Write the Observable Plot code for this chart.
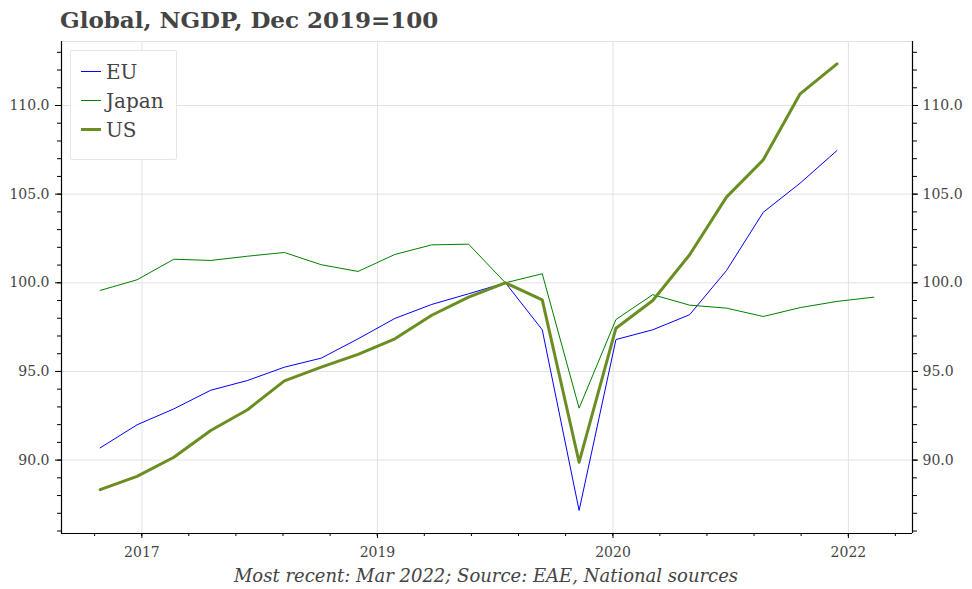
<!DOCTYPE html>
<html>
<head>
<meta charset="utf-8">
<script src="https://cdn.jsdelivr.net/npm/d3@7"></script>
<script src="https://cdn.jsdelivr.net/npm/@observablehq/plot@0.6"></script>
<style>
  body { margin: 0; background: #fff; }
  #wrap { position: relative; width: 972px; height: 589px; font-family: "DejaVu Serif", serif; color: #444; overflow: hidden; }
  #title { position: absolute; left: 60px; top: 5px; font-weight: bold; font-size: 23px; line-height: 30px; white-space: nowrap; }
  #chart { position: absolute; left: 0; top: 40px; }
  #caption { position: absolute; top: 563px; left: 0; width: 972px; text-align: center; font-style: italic; font-size: 18px; line-height: 26px; white-space: nowrap; }
  #legend { position: absolute; left: 70px; top: 50px; width: 105px; height: 102px; border: 1px solid #e6e6e6; border-radius: 2px; background: rgba(255,255,255,0.85); padding-top: 6px; box-sizing: content-box; }
  #legend .row { display: flex; align-items: center; height: 29px; padding-left: 10px; font-size: 20px; }
  #legend .sw { width: 20px; margin-right: 5px; }
</style>
</head>
<body>
<div id="wrap">
  <div id="title"></div>
  <div id="chart"></div>
  <div id="legend"></div>
  <div id="caption"></div>
</div>
<script>
// ---- data (quarterly, index 0 = Mar 2017) ----
const quarters = ["Mar 2017","Jun 2017","Sep 2017","Dec 2017","Mar 2018","Jun 2018","Sep 2018","Dec 2018",
  "Mar 2019","Jun 2019","Sep 2019","Dec 2019","Mar 2020","Jun 2020","Sep 2020","Dec 2020",
  "Mar 2021","Jun 2021","Sep 2021","Dec 2021","Mar 2022","Jun 2022"];
const eu = [90.69, 91.99, 92.89, 93.94, 94.49, 95.24, 95.75, 96.84, 97.99, 98.78, 99.38, 100.0,
  97.35, 87.16, 96.80, 97.35, 98.20, 100.69, 103.98, 105.62, 107.46];
const japan = [99.57, 100.17, 101.33, 101.26, 101.50, 101.71, 101.02, 100.64, 101.60, 102.14, 102.18, 100.0,
  100.51, 92.93, 97.93, 99.33, 98.74, 98.57, 98.10, 98.60, 98.95, 99.19];
const us = [88.33, 89.08, 90.16, 91.67, 92.84, 94.47, 95.24, 95.96, 96.84, 98.17, 99.19, 100.0,
  99.04, 89.88, 97.44, 99.00, 101.58, 104.83, 106.94, 110.66, 112.35];
const seriesNames = ["EU", "Japan", "US"];
const xTickLabels = ["2017", "2019", "2020", "2022"];
const xTickValues = [1.133, 7.526, 13.92, 20.31];
const yTickValues = [90, 95, 100, 105, 110];

const titleText = "Global, NGDP, Dec 2019=100";
const captionText = "Most recent: Mar 2022; Source: EAE, National sources";

// ---- build ----
const colors = {EU: "#0000ff", Japan: "#008000", US: "#6b8e23"};
const widths = {EU: 1, Japan: 1, US: 3};
const toRows = (arr) => arr.map((v, i) => ({i, v, q: quarters[i]}));
const seriesData = {EU: toRows(eu), Japan: toRows(japan), US: toRows(us)};

const xDomain = [-1.05, 22.05];
const yDomain = [85.86, 113.61];
const xMinor = d3.range(18).map(k => -0.152 + 1.2786 * k);
const yMinor = d3.range(86, 114);
const grid = "#e2e2e2";
const blank = () => "";

const chart = Plot.plot({
  width: 972,
  height: 523,
  marginLeft: 61,
  marginRight: 60,
  marginTop: 1,
  marginBottom: 30,
  x: {domain: xDomain, axis: null},
  y: {domain: yDomain, axis: null},
  style: {fontFamily: "DejaVu Serif, serif", fontSize: "14px", background: "transparent", overflow: "visible"},
  marks: [
    Plot.gridX(xTickValues, {stroke: grid, strokeOpacity: 1}),
    Plot.gridY(yTickValues, {stroke: grid, strokeOpacity: 1}),
    Plot.ruleY([yDomain[1]], {stroke: grid}),
    ...seriesNames.map(n => Plot.line(seriesData[n], {x: "i", y: "v", stroke: colors[n], strokeWidth: widths[n]})),
    Plot.ruleX([xDomain[0]], {stroke: "black", strokeWidth: 1.2}),
    Plot.ruleX([xDomain[1]], {stroke: "black", strokeWidth: 1.2}),
    Plot.ruleY([yDomain[0]], {stroke: "black", strokeWidth: 1.2}),
    Plot.axisY(yTickValues, {anchor: "left", label: null, tickSize: 6, tickPadding: 6, stroke: "black", fill: "#444", fontSize: 14, tickFormat: d => d.toFixed(1)}),
    Plot.axisY(yMinor, {anchor: "left", label: null, tickSize: 4, stroke: "black", tickFormat: blank}),
    Plot.axisY(yTickValues, {anchor: "right", label: null, tickSize: 5, tickPadding: 5, stroke: "black", fill: "#444", fontSize: 14, tickFormat: d => d.toFixed(1)}),
    Plot.axisY(yMinor, {anchor: "right", label: null, tickSize: 4, stroke: "black", tickFormat: blank}),
    Plot.axisX(xTickValues, {anchor: "bottom", label: null, tickSize: 5, tickPadding: 9, stroke: "black", fill: "#444", fontSize: 14, tickFormat: d => xTickLabels[xTickValues.indexOf(d)]}),
    Plot.axisX(xMinor, {anchor: "bottom", label: null, tickSize: 3, stroke: "black", tickFormat: blank})
  ]
});
document.getElementById("chart").appendChild(chart);
document.getElementById("title").textContent = titleText;
document.getElementById("caption").textContent = captionText;

const legend = document.getElementById("legend");
seriesNames.forEach(n => {
  const row = document.createElement("div");
  row.className = "row";
  const sw = document.createElement("span");
  sw.className = "sw";
  sw.style.borderTop = `${widths[n]}px solid ${colors[n]}`;
  row.appendChild(sw);
  const t = document.createElement("span");
  t.textContent = n;
  row.appendChild(t);
  legend.appendChild(row);
});
</script>
</body>
</html>
